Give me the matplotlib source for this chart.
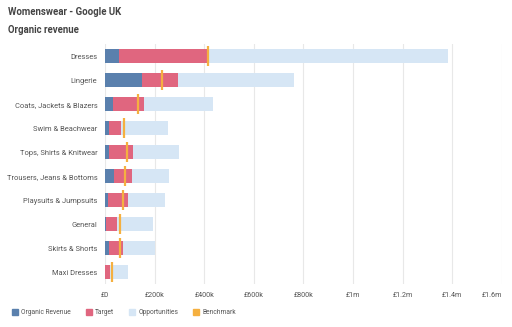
import matplotlib
matplotlib.use("Agg")
import matplotlib.pyplot as plt
from matplotlib.lines import Line2D

categories = ["Dresses", "Lingerie", "Coats, Jackets & Blazers", "Swim & Beachwear",
              "Tops, Shirts & Knitwear", "Trousers, Jeans & Bottoms", "Playsuits & Jumpsuits",
              "General", "Skirts & Shorts", "Maxi Dresses"]
organic = [56000, 148000, 32000, 16000, 16000, 35000, 11000, 4000, 16000, 1000]
target = [412000, 296000, 156000, 64000, 113000, 110000, 93000, 48000, 73000, 20000]
opportunities = [1382000, 761000, 435000, 253000, 298000, 259000, 242000, 192000, 200000, 93000]
benchmark = [415000, 230000, 133000, 77000, 90000, 79000, 73000, 59000, 62000, 29000]
xticks = [0, 200000, 400000, 600000, 800000, 1000000, 1200000, 1400000, 1600000]
xticklabels = ["£0", "£200k", "£400k", "£600k", "£800k", "£1m", "£1.2m", "£1.4m", "£1.6m"]

c_org = "#5a80ad"
c_tgt = "#e0667f"
c_opp = "#d6e6f5"
c_bm = "#f5b040"
font = "Roboto"

fig = plt.figure(figsize=(5.12, 3.27), dpi=100)
ax = fig.add_axes([0.205, 0.131, 0.775, 0.734])
y = list(range(len(categories)))
h = 0.56
ax.barh(y, opportunities, height=h, color=c_opp, zorder=2)
ax.barh(y, target, height=h, color=c_tgt, zorder=3)
ax.barh(y, organic, height=h, color=c_org, zorder=4)
for i, b in enumerate(benchmark):
    ax.plot([b, b], [i - 0.42, i + 0.42], color=c_bm, lw=1.6, zorder=5, solid_capstyle="butt")

ax.set_xlim(0, 1600000)
ax.set_ylim(len(categories) - 0.5, -0.5)
ax.set_xticks(xticks)
ax.set_xticklabels(xticklabels)
ax.set_yticks(y)
ax.set_yticklabels(categories)
ax.grid(axis="x", color="#e8e8e8", lw=0.8, zorder=0)
for s in ax.spines.values():
    s.set_visible(False)
ax.tick_params(axis="both", length=0, labelcolor="#555555")
ax.tick_params(axis="x", pad=6, labelsize=5.2)
ax.tick_params(axis="y", pad=5.5, labelsize=5.4)
for lbl in ax.get_xticklabels() + ax.get_yticklabels():
    lbl.set_fontfamily(font)
lbls = ax.get_xticklabels()
lbls[-1].set_horizontalalignment("right")

fig.text(8 / 512, 1 - 12 / 327, "Womenswear - Google UK", fontsize=6.9, fontweight="bold",
         color="#444444", family=font, va="center")
fig.text(8 / 512, 1 - 30 / 327, "Organic revenue", fontsize=6.9, fontweight="bold",
         color="#444444", family=font, va="center")

handles = [Line2D([], [], marker="s", ls="", markersize=4.5, color=c) for c in (c_org, c_tgt, c_opp, c_bm)]
leg = fig.legend(handles, ["Organic Revenue", "Target", "Opportunities", "Benchmark"],
                 loc="center left", bbox_to_anchor=(12 / 512, 1 - 313 / 327), ncol=4, frameon=False,
                 prop={"family": font, "size": 4.8}, handlelength=0.9, handletextpad=0.5,
                 columnspacing=2.2, borderaxespad=0, borderpad=0)
for t in leg.get_texts():
    t.set_color("#555555")

fig.savefig("out.png", dpi=100)
